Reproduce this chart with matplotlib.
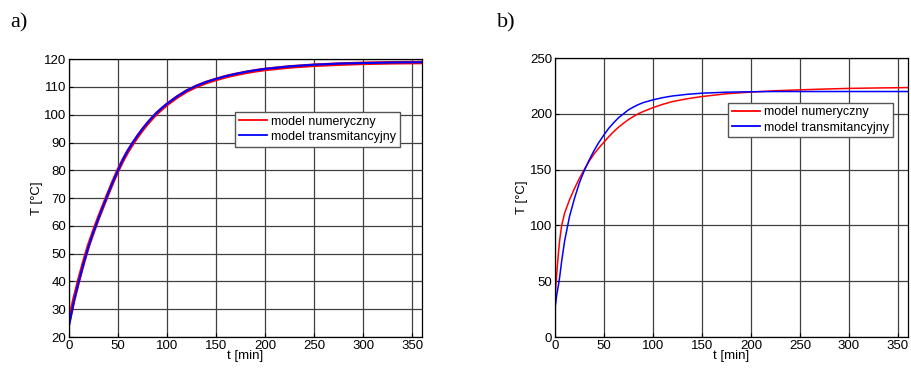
import matplotlib.pyplot as plt

plt.rcParams['font.family'] = ['Liberation Sans', 'DejaVu Sans']

# a) dane
t_a = [0, 5, 10, 15, 20, 25, 30, 35, 40, 45, 50, 55, 60, 65, 70, 75, 80, 85,
       90, 95, 100, 110, 120, 130, 140, 150, 160, 170, 180, 190, 200, 225,
       250, 275, 300, 330, 360]
num_a = [25.5, 33.5, 40.5, 47, 53, 58, 62.8, 67.3, 71.7, 76, 80, 83.6, 86.8,
         89.6, 92.2, 94.6, 96.8, 98.8, 100.6, 102.2, 103.7, 106.3, 108.5,
         110.2, 111.6, 112.7, 113.7, 114.5, 115.2, 115.8, 116.3, 117.2, 117.8,
         118.2, 118.5, 118.7, 118.8]
tr_a = [24, 32.8, 40, 46.6, 52.6, 57.8, 62.6, 67.2, 71.7, 76, 80, 83.8, 87.1,
        89.9, 92.5, 94.9, 97.1, 99.1, 100.9, 102.5, 103.9, 106.5, 108.7,
        110.4, 111.8, 112.9, 113.9, 114.7, 115.4, 116, 116.5, 117.4, 118,
        118.4, 118.6, 118.8, 118.9]

# b) dane
t_b = [0, 1, 2, 3, 4, 5, 7, 10, 15, 20, 25, 30, 35, 40, 45, 50, 55, 60, 65,
       70, 75, 80, 85, 90, 100, 110, 120, 135, 150, 175, 200, 225, 250, 275,
       300, 330, 360]
num_b = [27, 45, 57, 68, 78, 87, 100, 111, 123, 133, 142, 150, 157.5, 164,
         169.5, 174.5, 179.5, 184, 188, 191.5, 194.8, 197.5, 200, 202, 205.5,
         208.5, 211, 213.5, 215.5, 218, 219.5, 220.7, 221.5, 222.2, 222.8,
         223.2, 223.5]
tr_b = [25, 31, 38, 43, 48, 54, 68, 86, 108, 124, 138, 149, 158.5, 167, 174.5,
        181, 187, 192, 196.5, 200, 203.5, 206, 208.2, 210, 212.5, 214.5, 216,
        217.5, 218.5, 219.4, 219.8, 220, 220, 220, 220, 220, 220]

xticks = [0, 50, 100, 150, 200, 250, 300, 350]
labels = ['model numeryczny', 'model transmitancyjny']

fig = plt.figure(figsize=(9.11, 3.69), dpi=100)
ax1 = fig.add_axes([0.0757, 0.0867, 0.3875, 0.753])
ax2 = fig.add_axes([0.609, 0.0867, 0.3875, 0.756])


def setup(ax, ylim, yticks):
    ax.set_xlim(0, 360)
    ax.set_ylim(*ylim)
    ax.set_xticks(xticks)
    ax.set_yticks(yticks)
    ax.grid(True, color='#404040', linewidth=0.9)
    ax.set_axisbelow(True)
    ax.tick_params(direction='in', length=3, labelsize=9.5, pad=2)
    ax.set_xlabel('t [min]', fontsize=9.5, labelpad=-1)
    ax.set_ylabel('T [°C]', fontsize=9.5, labelpad=1)
    for s in ax.spines.values():
        s.set_linewidth(0.9)


def add_legend(ax, anchor):
    leg = ax.legend(loc='upper left', bbox_to_anchor=anchor, fontsize=9,
                    fancybox=False, edgecolor='#555555', framealpha=1,
                    handlelength=2.3, borderpad=0.3, labelspacing=0.25,
                    handletextpad=0.3, borderaxespad=0)
    for ln in leg.get_lines():
        ln.set_linewidth(1.3)


ax1.plot(t_a, num_a, color='red', linewidth=2.6, label=labels[0])
ax1.plot(t_a, tr_a, color='blue', linewidth=1.5, label=labels[1])
setup(ax1, (20, 120), range(20, 121, 10))
add_legend(ax1, (0.47, 0.81))

ax2.plot(t_b, num_b, color='red', linewidth=1.1, label=labels[0])
ax2.plot(t_b, tr_b, color='blue', linewidth=1.1, label=labels[1])
setup(ax2, (0, 250), range(0, 251, 50))
add_legend(ax2, (0.49, 0.84))

fig.text(0.011, 0.925, 'a)', fontsize=16, family='Liberation Serif')
fig.text(0.545, 0.925, 'b)', fontsize=16, family='Liberation Serif')

fig.savefig('out.png', dpi=100)
